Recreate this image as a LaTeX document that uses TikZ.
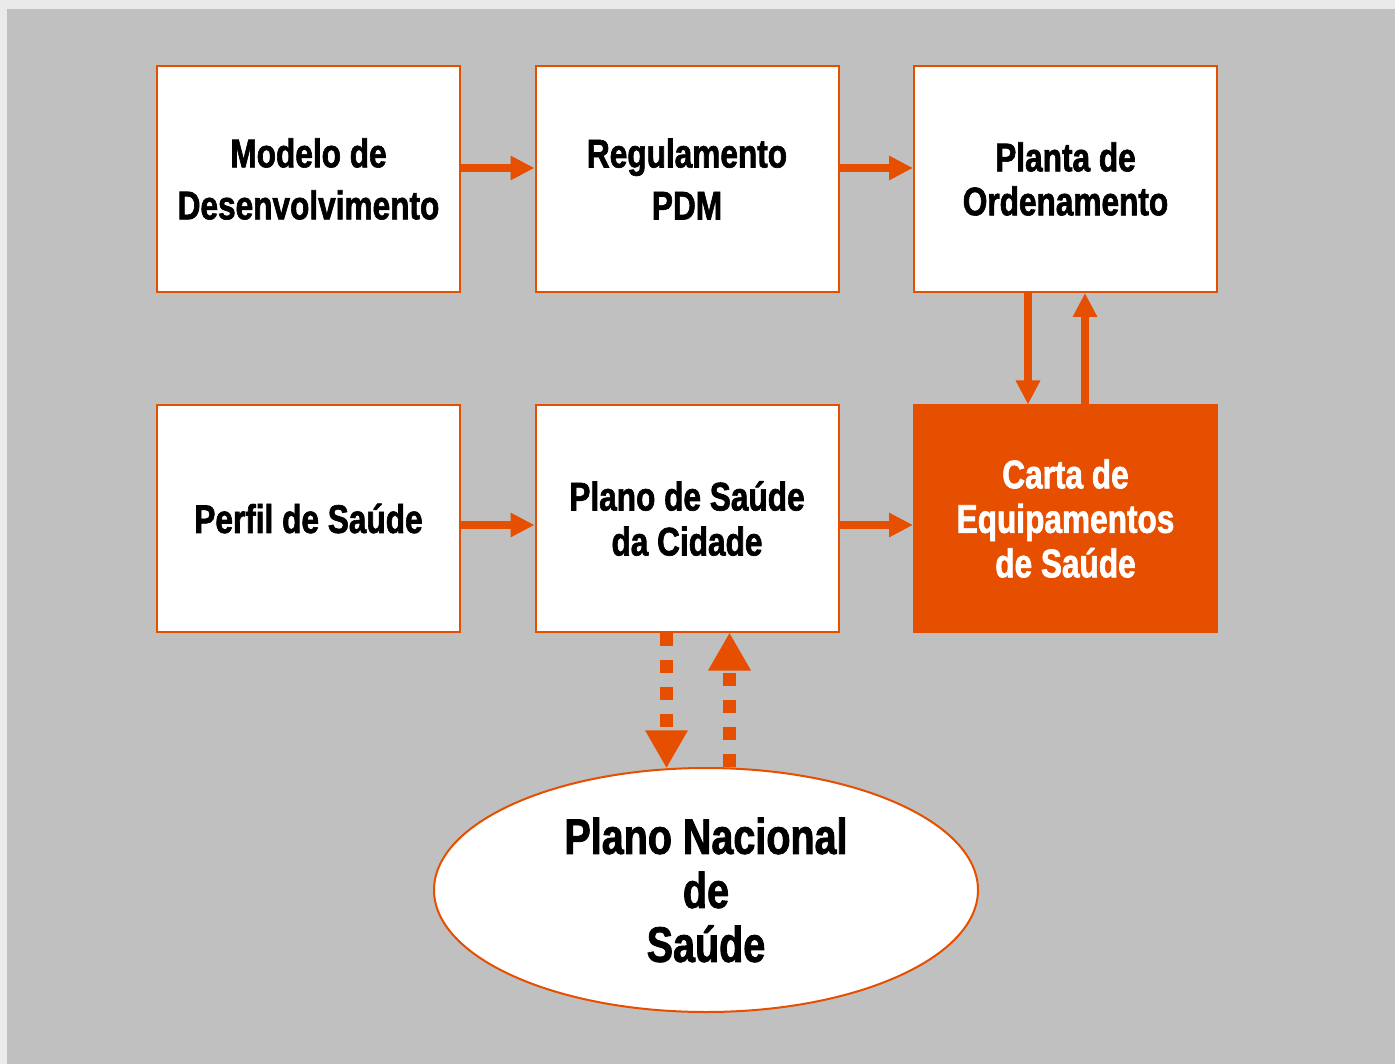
\documentclass[tikz,border=0pt]{standalone}
\usepackage{fontspec}
\setmainfont{Liberation Sans}[FakeStretch=0.79, BoldFeatures={FakeBold=1.6}]
\usetikzlibrary{arrows.meta,shapes.geometric}
\definecolor{org}{RGB}{230,78,0}
\definecolor{bgray}{RGB}{192,192,192}
\definecolor{lgray}{RGB}{234,234,234}
\tikzset{
  box/.style={draw=org, line width=2pt, fill=white, minimum width=303pt, minimum height=226pt, inner sep=0pt, align=center},
  fbox/.style={box, fill=org, text=white},
  arr/.style={draw=org, line width=8pt, -{Triangle[length=24pt,width=23pt]}},
  darr/.style={draw=org, line width=13pt, dash pattern=on 13pt off 14pt, -{Triangle[length=38pt,width=40pt]}},
}
\begin{document}
\begin{tikzpicture}[x=1pt,y=-1pt]
\fill[lgray] (0,0) rectangle (1395,1064);
\fill[bgray] (7,9) rectangle (1395,1064);
\useasboundingbox (0,0) rectangle (1395,1064);

\node[box, font=\bfseries\fontsize{40}{52}\selectfont] (b1) at (308.5,179) {Modelo de\\Desenvolvimento};
\node[box, font=\bfseries\fontsize{40}{52}\selectfont] (b2) at (687,179) {Regulamento\\PDM};
\node[box, font=\bfseries\fontsize{40}{44}\selectfont] (b3) at (1065.5,179) {Planta de\\Ordenamento};
\node[box, font=\bfseries\fontsize{40}{45}\selectfont] (b4) at (308.5,518.5) {Perfil de Saúde};
\node[box, font=\bfseries\fontsize{40}{45}\selectfont] (b5) at (687,518.5) {Plano de Saúde\\da Cidade};
\node[fbox, font=\bfseries\fontsize{40}{44.5}\selectfont] (b6) at (1065.5,518.5) {Carta de\\Equipamentos\\de Saúde};
\node[ellipse, draw=org, line width=2pt, fill=white, minimum width=544pt, minimum height=244pt, inner sep=0pt, align=center, font=\bfseries\fontsize{50}{54}\selectfont] (ell) at (706,890) {Plano Nacional\\de\\Saúde};

\draw[arr] ([yshift=11pt]b1.east) -- ([yshift=11pt]b2.west);
\draw[arr] ([yshift=11pt]b2.east) -- ([yshift=11pt]b3.west);
\draw[arr] ([yshift=-6.5pt]b4.east) -- ([yshift=-6.5pt]b5.west);
\draw[arr] ([yshift=-6.5pt]b5.east) -- ([yshift=-6.5pt]b6.west);
\draw[arr] ([xshift=-37.5pt]b3.south) -- ([xshift=-37.5pt]b6.north);
\draw[arr] ([xshift=19.5pt]b6.north) -- ([xshift=19.5pt]b3.south);
\draw[darr] ([xshift=-20.5pt]b5.south) -- ([xshift=-20.5pt]b5.south |- ell.108.1);
\draw[darr] ([xshift=42.5pt]b5.south |- ell.79) -- ([xshift=42.5pt]b5.south);
\end{tikzpicture}
\end{document}
